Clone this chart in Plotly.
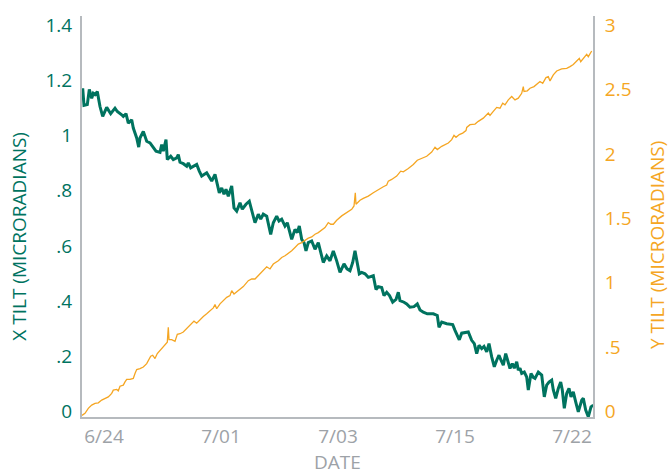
import plotly.graph_objects as go

# Elapsed time (hours from the start of the record) and tilt readings
x_time = [0.7, 2, 5.3, 7.3, 9.7, 11.3, 13, 15.3, 18, 20.7, 24.7, 28.7, 33, 35.3, 39.7, 41.3, 44, 46.3,
          49.7, 51.3, 54.7, 56.7, 58, 61.3, 64.7, 68, 74, 78, 79.7, 81.3, 84, 85.3, 88.7, 91.3, 94.7,
          96.3, 98, 101.3, 104.7, 106.3, 108.7, 114.7, 117.3, 119.7, 124.7, 129.7, 133, 137.3, 139.7,
          142, 144, 146.3, 149.7, 152, 154.7, 158, 160.3, 164, 167.3, 169.7, 173, 176.3, 178.7, 181.3,
          184.7, 188.7, 191.3, 194.7, 197, 199.7, 203, 205.3, 209.7, 213, 215.3, 217.3, 219.7, 222,
          224, 226.3, 229.7, 233, 236.3, 241.3, 244.7, 248, 251.3, 254.7, 258, 262, 265, 268, 270.7,
          273, 274.7, 277.3, 279.7, 283, 286.3, 291.3, 294, 296.3, 299.7, 302, 304.7, 307.5, 310.7,
          314, 316.3, 318, 322, 324.7, 328, 332, 335.3, 338, 341.3, 345.3, 351.3, 355.3, 357, 359.7,
          364.7, 370.7, 373, 377.3, 379.7, 383, 386.3, 389.7, 392.3, 394.7, 397, 399.7, 402, 404.7,
          407, 409.7, 412.3, 414.7, 417, 419, 421.3, 423.7, 426, 428, 430.3, 432.3, 434.7, 436.3,
          438, 439.7, 442.3, 444.7, 446.3, 449, 451.3, 453, 456.3, 459.7, 462.3, 464.7, 467, 469.7,
          471.3, 473.7, 476.3, 478.7, 480.3, 482.3, 484.7, 487, 489, 491.3, 493.7, 496.3, 499.7,
          501.3, 503.7, 506.3, 509, 511.3]
x_tilt = [1.171, 1.109, 1.112, 1.167, 1.135, 1.153, 1.148, 1.159, 1.105, 1.069, 1.102, 1.079, 1.099,
          1.087, 1.075, 1.069, 1.079, 1.045, 1.057, 1.027, 0.991, 0.958, 0.991, 1.015, 0.979, 0.973,
          0.943, 0.939, 0.967, 0.943, 0.985, 0.913, 0.925, 0.913, 0.919, 0.931, 0.903, 0.898, 0.889,
          0.901, 0.883, 0.895, 0.871, 0.853, 0.865, 0.835, 0.859, 0.792, 0.810, 0.787, 0.805, 0.780,
          0.817, 0.738, 0.726, 0.756, 0.733, 0.751, 0.762, 0.733, 0.684, 0.715, 0.697, 0.715, 0.708,
          0.642, 0.684, 0.708, 0.690, 0.697, 0.672, 0.684, 0.624, 0.660, 0.648, 0.672, 0.624, 0.612,
          0.582, 0.612, 0.618, 0.588, 0.612, 0.540, 0.564, 0.546, 0.582, 0.546, 0.504, 0.535, 0.517,
          0.510, 0.540, 0.582, 0.546, 0.499, 0.504, 0.499, 0.486, 0.492, 0.442, 0.452, 0.449, 0.420,
          0.432, 0.420, 0.396, 0.406, 0.432, 0.402, 0.396, 0.390, 0.378, 0.380, 0.390, 0.368, 0.360,
          0.354, 0.354, 0.348, 0.305, 0.324, 0.318, 0.315, 0.294, 0.260, 0.284, 0.287, 0.288, 0.258,
          0.246, 0.210, 0.240, 0.228, 0.236, 0.216, 0.246, 0.198, 0.162, 0.186, 0.204, 0.186, 0.168,
          0.210, 0.178, 0.156, 0.174, 0.157, 0.180, 0.150, 0.157, 0.138, 0.143, 0.125, 0.078, 0.138,
          0.124, 0.120, 0.143, 0.132, 0.053, 0.096, 0.107, 0.114, 0.078, 0.048, 0.084, 0.107, 0.078,
          0.012, 0.066, 0.084, 0.053, 0.071, 0.035, -0.001, 0.041, 0.048, 0.005, -0.019, 0.017, 0.023]

y_time = [0, 3, 6.3, 9.7, 13, 16.3, 19.7, 23, 26.3, 29.7, 31.3, 34.7, 36.3, 38, 41.3, 43, 44.7, 48,
          51.3, 53, 54.7, 58, 61.3, 64.7, 66.3, 68.7, 70.7, 73, 75.3, 79.7, 83, 85.3, 86.3, 87, 89.7,
          93, 95.3, 98, 101.3, 104.7, 108, 112, 114.7, 118, 121.3, 124.7, 128, 131.3, 133, 134.7, 138,
          141.3, 144.7, 148, 149.7, 152, 156.3, 161.3, 166.3, 169.7, 173, 176.3, 179.7, 183, 184.7,
          188, 191.3, 196.3, 199.7, 203, 206.3, 209.7, 213, 216.3, 219.7, 223, 226.3, 229.7, 233,
          236.3, 239.7, 243, 246.3, 248.7, 251.3, 254.7, 259.7, 264.7, 269.7, 272, 273.3, 274, 278,
          281.3, 286.3, 291.3, 296.3, 301.3, 304.7, 306.3, 309.7, 314.7, 318.7, 321.3, 326.3, 331.3,
          335.3, 339.7, 344.7, 349.7, 353, 355.3, 359.7, 366.3, 369.7, 372, 374, 377.3, 380.7, 384,
          384.7, 388, 393, 396.3, 401.3, 406.3, 408, 411.3, 414.7, 418, 420.7, 423, 426.3, 429.7, 433,
          436.3, 439.7, 441.3, 442, 445.3, 448, 452, 454.7, 458, 460.7, 464, 466.3, 468, 471.3, 474.7,
          479.7, 484.7, 488, 491.3, 494.7, 497.3, 498.7, 501.3, 504.7, 506.3, 509.7]
y_tilt = [-0.03, -0.014, 0.025, 0.050, 0.063, 0.068, 0.089, 0.102, 0.114, 0.141, 0.166, 0.172, 0.161,
          0.197, 0.205, 0.230, 0.249, 0.249, 0.257, 0.295, 0.326, 0.334, 0.346, 0.372, 0.398, 0.429,
          0.437, 0.411, 0.450, 0.488, 0.514, 0.539, 0.655, 0.558, 0.558, 0.545, 0.599, 0.604, 0.617,
          0.643, 0.668, 0.702, 0.686, 0.713, 0.738, 0.759, 0.779, 0.805, 0.831, 0.798, 0.836, 0.862,
          0.887, 0.900, 0.939, 0.913, 0.939, 0.970, 1.016, 1.029, 1.029, 1.055, 1.080, 1.107, 1.124,
          1.107, 1.145, 1.171, 1.196, 1.209, 1.227, 1.248, 1.274, 1.300, 1.312, 1.331, 1.346, 1.356,
          1.377, 1.389, 1.408, 1.428, 1.467, 1.454, 1.454, 1.485, 1.519, 1.544, 1.570, 1.596, 1.699,
          1.609, 1.640, 1.655, 1.673, 1.699, 1.725, 1.745, 1.758, 1.789, 1.802, 1.828, 1.866, 1.861,
          1.887, 1.918, 1.951, 1.964, 1.982, 2.015, 2.052, 2.034, 2.059, 2.085, 2.111, 2.144, 2.129,
          2.150, 2.162, 2.181, 2.206, 2.227, 2.232, 2.253, 2.278, 2.317, 2.299, 2.330, 2.361, 2.355,
          2.394, 2.382, 2.420, 2.446, 2.420, 2.433, 2.471, 2.523, 2.485, 2.490, 2.510, 2.523, 2.541,
          2.562, 2.549, 2.593, 2.600, 2.567, 2.614, 2.644, 2.660, 2.665, 2.678, 2.695, 2.722, 2.742,
          2.716, 2.742, 2.773, 2.755, 2.799]

date_ticks = [22, 139, 256, 373, 490]
date_labels = ["6/24", "7/01", "7/03", "7/15", "7/22"]
x_tick_vals = [0, 0.2, 0.4, 0.6, 0.8, 1.0, 1.2, 1.4]
x_tick_text = ["0", ".2", ".4", ".6", ".8", "1", "1.2", "1.4"]
y_tick_vals = [0, 0.5, 1.0, 1.5, 2.0, 2.5, 3.0]
y_tick_text = ["0", ".5", "1", "1.5", "2", "2.5", "3"]

GREEN = "#00735f"
ORANGE = "#f5a623"
GREY = "#9da2a7"
AXIS = "#b6babe"
FONT = "Open Sans"
SIZE = 19

fig = go.Figure()
fig.add_trace(go.Scatter(x=x_time, y=x_tilt, mode="lines", yaxis="y",
                         line=dict(color=GREEN, width=3), showlegend=False))
fig.add_trace(go.Scatter(x=y_time, y=y_tilt, mode="lines", yaxis="y2",
                         line=dict(color=ORANGE, width=1.3), showlegend=False))

fig.update_layout(
    width=670, height=476,
    margin=dict(l=82, r=77, t=14, b=59),
    paper_bgcolor="white", plot_bgcolor="white",
    font=dict(family=FONT),
    xaxis=dict(range=[0, 511], tickvals=date_ticks, ticktext=date_labels,
               showgrid=False, zeroline=False, showline=True, linecolor=AXIS, linewidth=2,
               ticks="", tickfont=dict(size=SIZE, color=GREY), ticklabelstandoff=1),
    yaxis=dict(range=[-0.0198, 1.433], tickvals=x_tick_vals, ticktext=x_tick_text,
               showgrid=False, zeroline=False, showline=True, linecolor=AXIS, linewidth=2,
               ticks="", tickfont=dict(size=SIZE, color=GREEN), ticklabelstandoff=4),
    yaxis2=dict(range=[-0.0424, 3.071], tickvals=y_tick_vals, ticktext=y_tick_text,
                overlaying="y", side="right",
                showgrid=False, zeroline=False, showline=True, linecolor=AXIS, linewidth=2,
                ticks="", tickfont=dict(size=SIZE, color=ORANGE), ticklabelstandoff=6),
)

fig.add_annotation(text="X TILT (MICRORADIANS)", xref="paper", yref="paper",
                   x=-0.125, y=0.45, textangle=-90, showarrow=False,
                   xanchor="center", yanchor="middle",
                   font=dict(size=SIZE, color=GREEN, family=FONT))
fig.add_annotation(text="Y TILT (MICRORADIANS)", xref="paper", yref="paper",
                   x=1.124, y=0.43, textangle=-90, showarrow=False,
                   xanchor="center", yanchor="middle",
                   font=dict(size=SIZE, color=ORANGE, family=FONT))
fig.add_annotation(text="DATE", xref="paper", yref="paper",
                   x=0.5, y=-0.111, showarrow=False,
                   xanchor="center", yanchor="middle",
                   font=dict(size=SIZE, color=GREY, family=FONT))

fig.write_html("out.html")
